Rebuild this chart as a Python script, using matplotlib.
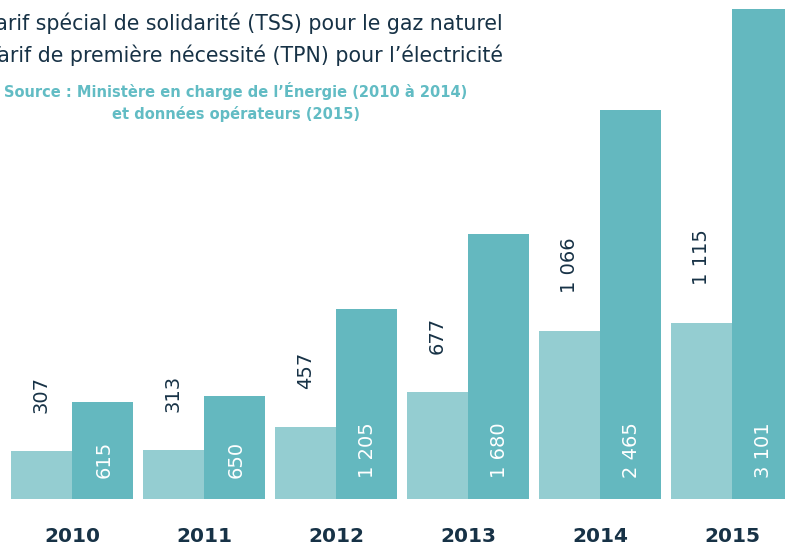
import matplotlib.pyplot as plt
import numpy as np

# ----------------------------
# Data
# ----------------------------
years = ["2010", "2011", "2012", "2013", "2014", "2015"]
tss_gaz = [307, 313, 457, 677, 1066, 1115]
tpn_elec = [615, 650, 1205, 1680, 2465, 3101]
tss_labels = ["307", "313", "457", "677", "1 066", "1 115"]
tpn_labels = ["615", "650", "1 205", "1 680", "2 465", "3 101"]

legend_lines = [
    "Tarif spécial de solidarité (TSS) pour le gaz naturel",
    "Tarif de première nécessité (TPN) pour l\u2019électricité",
]
source_text = ("Source : Ministère en charge de l\u2019Énergie (2010 à 2014)\n"
               "et données opérateurs (2015)")

# colours
LIGHT = "#94cdd1"
DARK = "#64b8bf"
NAVY = "#173246"
TEAL_TXT = "#62bcc4"

W, H = 785, 547
fig = plt.figure(figsize=(W / 100, H / 100), dpi=100)
ax = fig.add_axes([0, 0, 1, 1])

# pixel geometry: group pitch 132 px, first group centre at x=72, baseline at y=499
x0 = -72 / 132
x1 = (W - 72) / 132
ax.set_xlim(x0, x1)
ax.set_ylim(-(H - 499) * 6.33, 499 * 6.33)
ax.axis("off")

x = np.arange(len(years))
bw = 61 / 132
ax.bar(x - bw / 2, tss_gaz, width=bw, color=LIGHT)
ax.bar(x + bw / 2, tpn_elec, width=bw, color=DARK)

gap = 38 * 6.33
for i in range(len(years)):
    ax.text(x[i] - bw / 2, tss_gaz[i] + gap, tss_labels[i], rotation=90,
            ha="center", va="bottom", fontsize=14, color=NAVY)
    ax.text(x[i] + bw / 2 + 0.01, 21 * 6.33, tpn_labels[i], rotation=90,
            ha="center", va="bottom", fontsize=14, color="white")
    ax.text(x[i], -38 * 6.33, years[i], ha="center", va="center",
            fontsize=14.5, fontweight="bold", color=NAVY)

# legend text (cut off on the left in the original)
fig.text(503 / W, 1 - 23 / H, legend_lines[0], ha="right", va="center",
         fontsize=14.8, color=NAVY)
fig.text(503 / W, 1 - 55 / H, legend_lines[1], ha="right", va="center",
         fontsize=14.8, color=NAVY)
fig.text(236 / W, 1 - 102 / H, source_text, ha="center", va="center",
         fontsize=10.5, fontweight="semibold", color=TEAL_TXT,
         linespacing=1.5)

fig.savefig("out.png", dpi=100)
